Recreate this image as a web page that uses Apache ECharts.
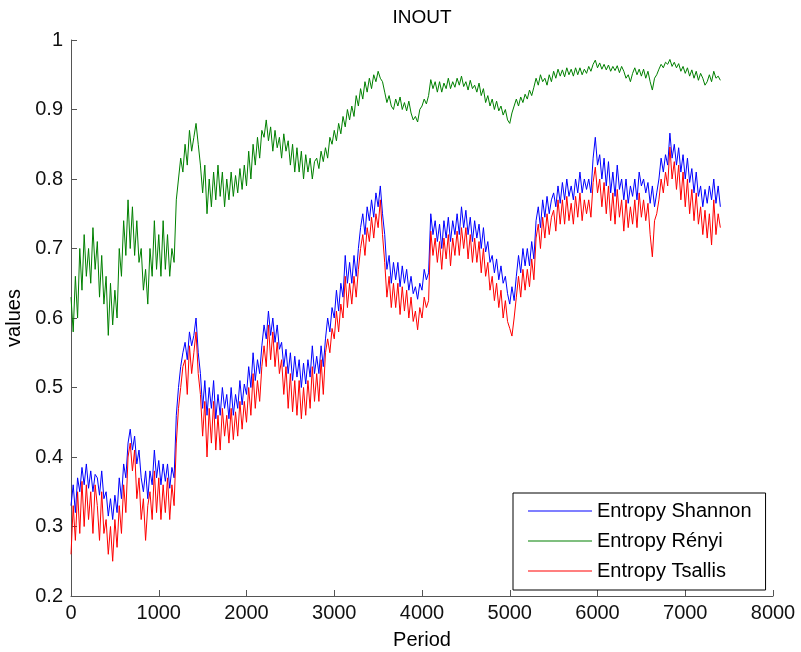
<!DOCTYPE html>
<html>
<head>
<meta charset="utf-8">
<script src="https://cdn.jsdelivr.net/npm/echarts@6/dist/echarts.min.js"></script>
<style>
html,body{margin:0;padding:0;background:#fff;}
#chart{width:801px;height:652px;}
</style>
</head>
<body>
<div id="chart"></div>
<script>
// Values read every 25 periods (Period = index * periodStep)
const periodStep = 25;

const seriesNames = ['Entropy Shannon', 'Entropy Rényi', 'Entropy Tsallis'];

const shannon = [
0.33,0.36,0.32,0.37, 0.35,0.385,0.36,0.39, 0.355,0.38,0.35,0.375, 0.37,0.345,0.38,0.34,
0.35,0.315,0.34,0.31, 0.345,0.32,0.37,0.34, 0.39,0.37,0.42,0.44, 0.41,0.43,0.39,0.41,
0.37,0.35,0.38,0.34, 0.38,0.36,0.41,0.37, 0.395,0.36,0.39,0.365, 0.39,0.355,0.385,0.37,
0.46,0.50,0.53,0.55, 0.565,0.54,0.58,0.56, 0.575,0.60,0.55,0.52, 0.47,0.51,0.46,0.50,
0.47,0.51,0.455,0.49, 0.46,0.50,0.47,0.49, 0.455,0.50,0.46,0.49, 0.47,0.51,0.475,0.505,
0.49,0.53,0.50,0.55, 0.51,0.54,0.52,0.56, 0.59,0.57,0.61,0.575, 0.60,0.565,0.59,0.555,
0.565,0.53,0.555,0.52, 0.55,0.51,0.545,0.515, 0.54,0.50,0.535,0.505, 0.54,0.515,0.56,0.52,
0.545,0.52,0.56,0.53, 0.57,0.60,0.58,0.615, 0.60,0.64,0.61,0.65, 0.63,0.69,0.65,0.68,
0.65,0.69,0.66,0.70, 0.73,0.75,0.72,0.76, 0.74,0.77,0.745,0.78, 0.76,0.79,0.75,0.72,
0.67,0.69,0.65,0.68, 0.655,0.68,0.645,0.675, 0.65,0.67,0.64,0.66, 0.635,0.645,0.627,0.65,
0.64,0.67,0.655,0.665, 0.75,0.72,0.74,0.71, 0.735,0.70,0.74,0.715, 0.745,0.71,0.74,0.72,
0.75,0.72,0.76,0.73, 0.755,0.72,0.745,0.71, 0.74,0.715,0.735,0.70, 0.73,0.695,0.71,0.68,
0.69,0.665,0.685,0.655, 0.675,0.65,0.66,0.635, 0.62,0.645,0.625,0.66, 0.69,0.665,0.70,0.675,
0.70,0.675,0.71,0.685, 0.74,0.76,0.73,0.77, 0.745,0.775,0.75,0.77, 0.78,0.76,0.79,0.765,
0.795,0.77,0.80,0.775, 0.79,0.77,0.80,0.78, 0.81,0.78,0.80,0.785, 0.80,0.78,0.83,0.86,
0.82,0.835,0.80,0.83, 0.79,0.825,0.78,0.81, 0.775,0.82,0.785,0.80, 0.77,0.80,0.765,0.79,
0.775,0.80,0.77,0.81, 0.79,0.80,0.78,0.795, 0.765,0.79,0.76,0.78, 0.80,0.83,0.81,0.835,
0.82,0.866,0.83,0.85, 0.82,0.845,0.81,0.835, 0.80,0.83,0.795,0.815, 0.78,0.81,0.775,0.79,
0.76,0.785,0.765,0.79, 0.77,0.80,0.765,0.79, 0.76
];

const renyi = [
0.63,0.58,0.66,0.60, 0.70,0.64,0.72,0.66, 0.70,0.65,0.73,0.67, 0.71,0.63,0.69,0.62,
0.66,0.575,0.65,0.59, 0.64,0.60,0.70,0.66, 0.74,0.69,0.77,0.70, 0.76,0.69,0.74,0.68,
0.70,0.64,0.67,0.62, 0.70,0.66,0.74,0.67, 0.72,0.66,0.74,0.67, 0.72,0.66,0.70,0.68,
0.77,0.80,0.83,0.81, 0.85,0.82,0.87,0.84, 0.86,0.88,0.85,0.82, 0.78,0.82,0.75,0.80,
0.76,0.81,0.77,0.82, 0.775,0.81,0.76,0.80, 0.77,0.81,0.775,0.805, 0.78,0.815,0.785,0.82,
0.79,0.84,0.80,0.85, 0.82,0.86,0.83,0.87, 0.86,0.885,0.855,0.875, 0.84,0.87,0.845,0.86,
0.83,0.865,0.84,0.855, 0.82,0.85,0.81,0.845, 0.81,0.84,0.80,0.835, 0.81,0.83,0.80,0.825,
0.83,0.815,0.84,0.825, 0.845,0.83,0.86,0.85, 0.87,0.855,0.88,0.865, 0.89,0.875,0.90,0.885,
0.905,0.89,0.92,0.905, 0.93,0.915,0.94,0.925, 0.945,0.93,0.95,0.94, 0.955,0.945,0.94,0.925,
0.91,0.92,0.905,0.90, 0.915,0.905,0.918,0.90, 0.91,0.898,0.912,0.895, 0.885,0.89,0.882,0.90,
0.905,0.915,0.908,0.92, 0.943,0.93,0.94,0.925, 0.94,0.925,0.938,0.93, 0.945,0.93,0.94,0.932,
0.945,0.935,0.948,0.933, 0.94,0.928,0.942,0.93, 0.935,0.925,0.938,0.92, 0.93,0.91,0.92,0.905,
0.915,0.90,0.912,0.898, 0.905,0.892,0.90,0.885, 0.88,0.895,0.905,0.915, 0.905,0.918,0.91,0.922,
0.915,0.928,0.92,0.932, 0.945,0.935,0.95,0.94, 0.945,0.935,0.95,0.94, 0.955,0.945,0.958,0.948,
0.957,0.947,0.96,0.95, 0.958,0.948,0.96,0.95, 0.96,0.95,0.958,0.952, 0.962,0.955,0.965,0.971,
0.96,0.967,0.958,0.965, 0.957,0.964,0.955,0.962, 0.956,0.963,0.953,0.962, 0.955,0.945,0.95,0.94,
0.952,0.96,0.95,0.958, 0.948,0.958,0.945,0.955, 0.94,0.928,0.945,0.95, 0.958,0.965,0.96,0.968,
0.965,0.972,0.962,0.968, 0.96,0.966,0.955,0.962, 0.952,0.96,0.948,0.957, 0.945,0.955,0.942,0.952,
0.945,0.935,0.94,0.95, 0.94,0.955,0.945,0.948, 0.942
];

const tsallis = [
0.26,0.33,0.28,0.35, 0.29,0.365,0.30,0.36, 0.31,0.35,0.29,0.36, 0.33,0.28,0.35,0.29,
0.31,0.26,0.30,0.25, 0.31,0.27,0.33,0.29, 0.36,0.32,0.40,0.42, 0.38,0.41,0.34,0.37,
0.31,0.34,0.28,0.33, 0.35,0.31,0.38,0.32, 0.37,0.31,0.36,0.32, 0.37,0.31,0.36,0.33,
0.42,0.47,0.50,0.53, 0.54,0.49,0.56,0.52, 0.55,0.58,0.52,0.49, 0.43,0.48,0.40,0.47,
0.42,0.48,0.41,0.46, 0.41,0.47,0.43,0.46, 0.42,0.47,0.425,0.465, 0.43,0.48,0.44,0.48,
0.45,0.50,0.46,0.52, 0.47,0.51,0.48,0.53, 0.56,0.53,0.59,0.54, 0.58,0.53,0.565,0.52,
0.54,0.49,0.53,0.47, 0.52,0.465,0.51,0.46, 0.51,0.455,0.50,0.46, 0.51,0.47,0.53,0.48,
0.52,0.48,0.54,0.49, 0.55,0.57,0.55,0.585, 0.57,0.61,0.58,0.62, 0.60,0.66,0.615,0.65,
0.62,0.66,0.63,0.67, 0.70,0.72,0.69,0.73, 0.71,0.745,0.715,0.75, 0.73,0.77,0.72,0.68,
0.63,0.66,0.615,0.65, 0.615,0.65,0.605,0.645, 0.61,0.64,0.60,0.63, 0.595,0.61,0.583,0.615,
0.60,0.63,0.615,0.625, 0.725,0.69,0.715,0.68, 0.71,0.67,0.715,0.685, 0.72,0.675,0.715,0.69,
0.725,0.69,0.73,0.70, 0.73,0.685,0.72,0.68, 0.715,0.68,0.71,0.665, 0.70,0.66,0.68,0.64,
0.66,0.625,0.65,0.615, 0.64,0.60,0.625,0.595, 0.585,0.574,0.60,0.63, 0.66,0.63,0.67,0.64,
0.67,0.645,0.685,0.655, 0.715,0.735,0.70,0.745, 0.715,0.75,0.72,0.745, 0.755,0.725,0.77,0.735,
0.77,0.735,0.775,0.74, 0.765,0.735,0.775,0.745, 0.78,0.74,0.77,0.75, 0.77,0.745,0.795,0.817,
0.78,0.80,0.76,0.795, 0.75,0.79,0.74,0.78, 0.735,0.785,0.745,0.77, 0.725,0.77,0.73,0.76,
0.735,0.77,0.73,0.78, 0.745,0.77,0.74,0.765, 0.72,0.688,0.74,0.75, 0.77,0.80,0.78,0.81,
0.79,0.846,0.80,0.825, 0.785,0.82,0.77,0.81, 0.76,0.80,0.75,0.785, 0.74,0.78,0.735,0.76,
0.72,0.755,0.715,0.75, 0.705,0.77,0.72,0.75, 0.73
];

const xTicks = [0, 1000, 2000, 3000, 4000, 5000, 6000, 7000, 8000];
const yTicks = [0.2, 0.3, 0.4, 0.5, 0.6, 0.7, 0.8, 0.9, 1];

const colors = ['#0000ff', '#008000', '#ff0000'];
const FONT = "'Liberation Sans', Arial, Helvetica, sans-serif";

function pairs(arr) { return arr.map((v, i) => [i * periodStep, v]); }

const chart = echarts.init(document.getElementById('chart'), null, {renderer: 'canvas'});
const axisColor = '#555555';
chart.setOption({
  animation: false,
  backgroundColor: '#ffffff',
  color: colors,
  title: {
    text: 'INOUT',
    left: 417, top: 3, textAlign: 'center',
    textStyle: {fontFamily: FONT, fontSize: 19, fontWeight: 'normal', color: '#000'}
  },
  grid: {left: 71, right: 28, top: 40, bottom: 56, containLabel: false, outerBoundsMode: 'none'},
  legend: {
    orient: 'vertical',
    left: 513, top: 493,
    padding: [8, 14, 9, 15],
    itemWidth: 64, itemHeight: 1, itemGap: 10,
    icon: 'rect',
    backgroundColor: '#ffffff',
    borderColor: '#000000', borderWidth: 1, borderRadius: 0,
    textStyle: {fontFamily: FONT, fontSize: 20, color: '#000', lineHeight: 20},
    data: seriesNames
  },
  xAxis: {
    type: 'value',
    min: xTicks[0], max: xTicks[xTicks.length - 1], interval: 1000,
    name: 'Period', nameLocation: 'middle', nameGap: 34,
    nameTextStyle: {fontFamily: FONT, fontSize: 20, color: '#000'},
    axisLine: {show: true, onZero: false, lineStyle: {color: axisColor, width: 1}},
    axisTick: {show: true, inside: true, length: 6, lineStyle: {color: axisColor}},
    axisLabel: {fontFamily: FONT, fontSize: 20, color: '#111', margin: 7,
      formatter: v => String(v)},
    splitLine: {show: false}
  },
  yAxis: {
    type: 'value',
    min: yTicks[0], max: yTicks[yTicks.length - 1], interval: 0.1,
    name: 'values', nameLocation: 'middle', nameGap: 47,
    nameTextStyle: {fontFamily: FONT, fontSize: 20, color: '#000'},
    axisLine: {show: true, onZero: false, lineStyle: {color: axisColor, width: 1}},
    axisTick: {show: true, inside: true, length: 6, lineStyle: {color: axisColor}},
    axisLabel: {fontFamily: FONT, fontSize: 20, color: '#111', margin: 8,
      formatter: v => String(+v.toFixed(1))},
    splitLine: {show: false}
  },
  series: [
    {name: seriesNames[0], type: 'line', data: pairs(shannon), symbol: 'none', showSymbol: false,
     lineStyle: {width: 1, color: colors[0]}, itemStyle: {color: colors[0]}},
    {name: seriesNames[1], type: 'line', data: pairs(renyi), symbol: 'none', showSymbol: false,
     lineStyle: {width: 1, color: colors[1]}, itemStyle: {color: colors[1]}},
    {name: seriesNames[2], type: 'line', data: pairs(tsallis), symbol: 'none', showSymbol: false,
     lineStyle: {width: 1, color: colors[2]}, itemStyle: {color: colors[2]}}
  ]
});
</script>
</body>
</html>
